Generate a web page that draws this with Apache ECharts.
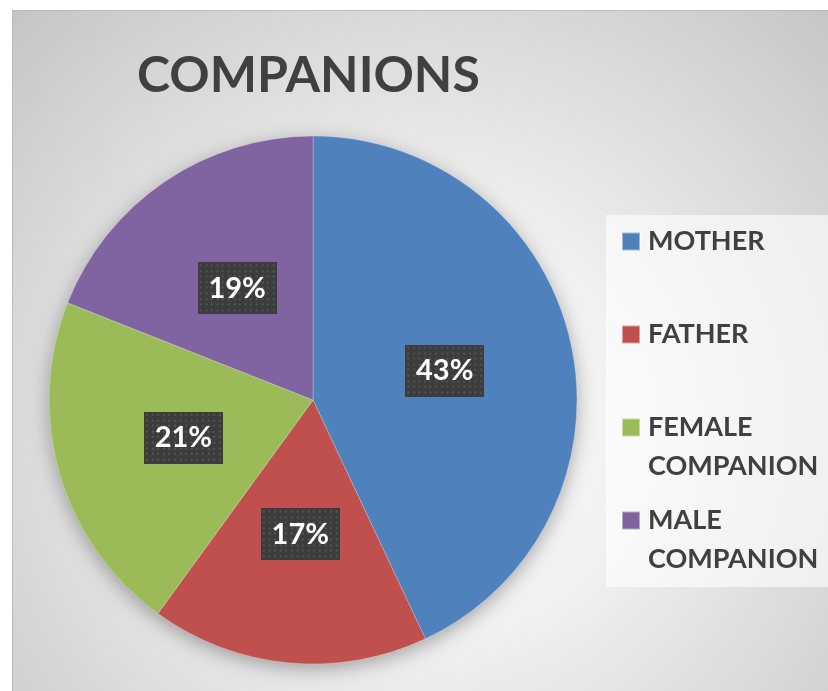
<!DOCTYPE html>
<html>
<head>
<meta charset="utf-8">
<script src="https://cdn.jsdelivr.net/npm/echarts@6/dist/echarts.min.js"></script>
<style>
html, body { margin: 0; padding: 0; background: #fff; }
#chart { width: 828px; height: 691px; }
</style>
</head>
<body>
<div id="chart"></div>
<script>
const chartTitle = 'COMPANIONS';
const categories = ['MOTHER', 'FATHER', 'FEMALE COMPANION', 'MALE COMPANION'];
const shares = [43, 17, 21, 19];
const colors = ['#4F81BD', '#C0504D', '#9BBB59', '#8064A2'];

// dark dotted box behind the percent labels
function dottedBox(w, h) {
    const c = document.createElement('canvas');
    c.width = w; c.height = h;
    const ctx = c.getContext('2d');
    ctx.fillStyle = '#3c3c3c';
    ctx.fillRect(0, 0, w, h);
    ctx.fillStyle = '#545454';
    for (let y = 2; y < h; y += 5.6) {
        for (let x = 2; x < w; x += 5.6) {
            ctx.fillRect(Math.round(x), Math.round(y), 2, 2);
        }
    }
    return c;
}

const myChart = echarts.init(document.getElementById('chart'));

const option = {
    backgroundColor: '#fff',
    color: colors,
    animation: false,
    graphic: [
        {
            type: 'rect',
            z: -10,
            silent: true,
            shape: { x: 12.5, y: 10.5, width: 830, height: 700 },
            style: {
                fill: {
                    type: 'radial', x: 0.5, y: 0.6, r: 0.85,
                    colorStops: [
                        { offset: 0, color: '#fdfdfd' },
                        { offset: 0.35, color: '#f1f1f1' },
                        { offset: 0.7, color: '#d9d9d9' },
                        { offset: 1, color: '#c4c4c4' }
                    ]
                },
                stroke: '#bcbcbc',
                lineWidth: 1
            }
        },
        {
            type: 'rect',
            z: -5,
            silent: true,
            shape: { x: 606, y: 215, width: 230, height: 372 },
            style: { fill: 'rgba(255,255,255,0.6)' }
        }
    ],
    title: {
        text: chartTitle,
        left: 137,
        top: 51,
        padding: 0,
        textStyle: {
            fontFamily: 'Lato',
            fontWeight: 'bold',
            fontSize: 50,
            color: '#404040'
        }
    },
    legend: {
        orient: 'vertical',
        left: 621,
        top: 189,
        padding: 0,
        itemGap: -12,
        itemWidth: 18,
        itemHeight: 18,
        icon: 'rect',
        selectedMode: false,
        data: categories,
        formatter: function (name) {
            const parts = name.split(' ');
            const second = parts[1] ? parts[1] : '\u00a0';
            return '{a|\u00a0}\n{a|' + parts[0] + '}\n{a|' + second + '}';
        },
        textStyle: {
            rich: {
                a: {
                    fontFamily: 'Lato',
                    fontWeight: 'bold',
                    fontSize: 27,
                    lineHeight: 39,
                    color: '#404040',
                    padding: [0, 0, 0, 3]
                }
            }
        }
    },
    series: [
        {
            // soft shadow under the pie
            type: 'pie',
            silent: true,
            z: 1,
            center: [313, 400],
            radius: 263,
            label: { show: false },
            labelLine: { show: false },
            itemStyle: {
                color: '#9a9a9a',
                shadowBlur: 20,
                shadowOffsetY: 5,
                shadowColor: 'rgba(0,0,0,0.35)'
            },
            data: [{ name: 'shadow', value: 1 }]
        },
        {
            type: 'pie',
            z: 2,
            center: [313, 400],
            radius: 264,
            startAngle: 90,
            clockwise: true,
            avoidLabelOverlap: false,
            emphasis: { scale: false },
            itemStyle: {
                borderColor: 'rgba(255,255,255,0.45)',
                borderWidth: 0.6
            },
            labelLine: { show: false },
            label: {
                show: true,
                position: 'inside',
                formatter: function (p) { return p.value + '%'; },
                fontFamily: 'Lato',
                fontWeight: 'bold',
                fontSize: 29,
                color: '#fff',
                width: 59,
                height: 30,
                lineHeight: 30,
                align: 'center',
                padding: [11, 10],
                backgroundColor: { image: dottedBox(79, 52) },
                shadowBlur: 7,
                shadowOffsetX: 3,
                shadowOffsetY: 3,
                shadowColor: 'rgba(0,0,0,0.45)'
            },
            data: categories.map(function (name, i) {
                return { name: name, value: shares[i] };
            })
        }
    ]
};

myChart.setOption(option);
</script>
</body>
</html>
